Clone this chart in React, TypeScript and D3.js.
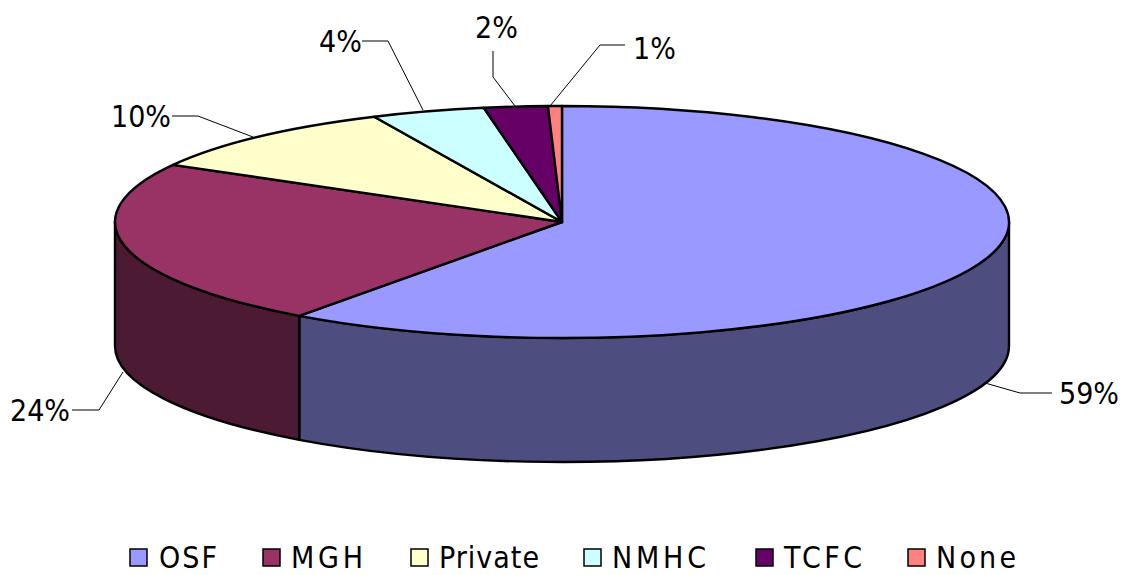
import React from "react";
import * as d3 from "d3";

const categories = ["OSF", "MGH", "Private", "NMHC", "TCFC", "None"];
const values = [60, 23.2, 9.9, 4.1, 2.3, 0.5];
const pctLabels = ["59%", "24%", "10%", "4%", "2%", "1%"];
const topColors = ["#9999FF", "#993366", "#FFFFCC", "#CCFFFF", "#660066", "#FF8080"];
const sideColors = ["#4D4D80", "#4D1A33", "#80805F", "#668080", "#330033", "#804040"];
const legendSquareX = [130, 263, 411, 584, 756, 908];
const legendTextX = [159, 291, 439, 612, 784, 936];
const legendTextW = [58, 72, 100, 94, 78, 80];
const labelAnchors = [
  { x: 1059, y: 393 }, { x: 10, y: 410 }, { x: 111, y: 116 },
  { x: 319, y: 41 }, { x: 475, y: 27 }, { x: 633, y: 48 },
];
const leaders = [
  [[985, 383], [1020, 393], [1052, 393]],
  [[123, 372], [99, 410], [72, 410]],
  [[253, 137], [198, 116], [172, 116]],
  [[423, 110], [388, 41], [362, 41]],
  [[515, 106], [493, 77], [493, 51]],
  [[550, 106], [600, 45], [625, 45]],
];

const cx = 562, cy = 222, rx = 447, ry = 116, depth = 124;
const FONT = "'DejaVu Sans Condensed','DejaVu Sans',sans-serif";

const pt = (a: number, dy = 0) => [cx + rx * Math.sin(a), cy - ry * Math.cos(a) + dy];

export default function App() {
  const arcs = d3.pie<number>().sort(null)(values);
  const line = d3.line();
  const sideStart = Math.PI / 2, sideEnd = (3 * Math.PI) / 2;
  return (
    <svg width={1123} height={575} style={{ position: "absolute", left: 0, top: 0, background: "#fff" }} fontFamily={FONT}>
      {arcs.map((d, i) => {
        const a0 = Math.max(d.startAngle, sideStart), a1 = Math.min(d.endAngle, sideEnd);
        if (a1 <= a0) return null;
        const [x0, y0] = pt(a0), [x1, y1] = pt(a1);
        const [x2, y2] = pt(a1, depth), [x3, y3] = pt(a0, depth);
        return (
          <path key={"s" + i} fill={sideColors[i]} stroke="#000" strokeWidth={2.4} strokeLinejoin="round"
            d={`M${x0},${y0}A${rx},${ry} 0 0 1 ${x1},${y1}L${x2},${y2}A${rx},${ry} 0 0 0 ${x3},${y3}Z`} />
        );
      })}
      {arcs.map((d, i) => {
        const [x0, y0] = pt(d.startAngle), [x1, y1] = pt(d.endAngle);
        const large = d.endAngle - d.startAngle > Math.PI ? 1 : 0;
        return (
          <path key={"t" + i} fill={topColors[i]} stroke="#000" strokeWidth={2.4} strokeLinejoin="round"
            d={`M${cx},${cy}L${x0},${y0}A${rx},${ry} 0 ${large} 1 ${x1},${y1}Z`} />
        );
      })}
      {leaders.map((l, i) => (
        <path key={"l" + i} d={line(l as [number, number][]) as string} fill="none" stroke="#000" strokeWidth={1} />
      ))}
      {pctLabels.map((t, i) => (
        <text key={"p" + i} x={labelAnchors[i].x} y={labelAnchors[i].y + 11} fontSize={30} fill="#000">{t}</text>
      ))}
      {categories.map((c, i) => (
        <g key={"k" + i}>
          <rect x={legendSquareX[i]} y={549} width={17} height={17} fill={topColors[i]} stroke="#000" strokeWidth={1.5} />
          <text x={legendTextX[i]} y={568} fontSize={30} fill="#000" textLength={legendTextW[i]} lengthAdjust="spacing">{c}</text>
        </g>
      ))}
    </svg>
  );
}
